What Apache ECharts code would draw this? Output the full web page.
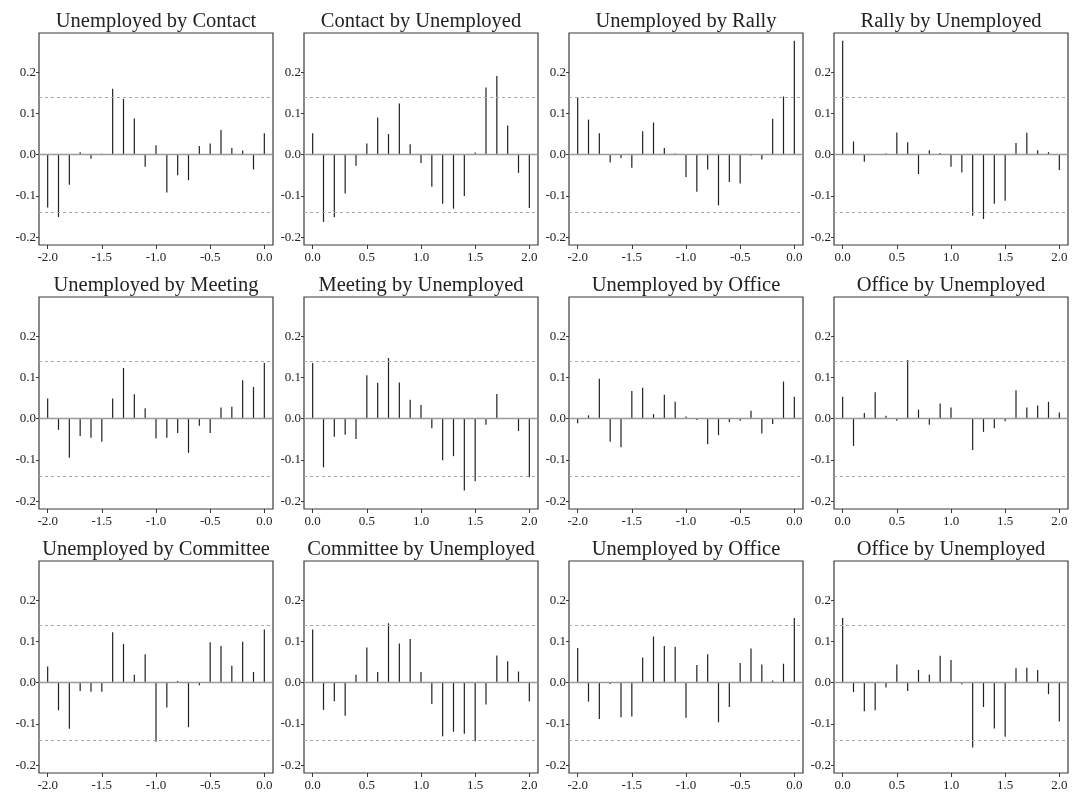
<!DOCTYPE html>
<html>
<head>
<meta charset="utf-8">
<script src="https://cdn.jsdelivr.net/npm/echarts@6/dist/echarts.min.js"></script>
<style>
  html, body { margin: 0; padding: 0; background: #fff; }
  #chart { width: 1076px; height: 798px; }
</style>
</head>
<body>
<div id="chart"></div>
<script>
// Lags (years) for the two directions of each cross-correlation pair
const lagsBack = [-2.0, -1.9, -1.8, -1.7, -1.6, -1.5, -1.4, -1.3, -1.2, -1.1, -1.0,
                  -0.9, -0.8, -0.7, -0.6, -0.5, -0.4, -0.3, -0.2, -0.1, 0.0];
const lagsFwd = [0.0, 0.1, 0.2, 0.3, 0.4, 0.5, 0.6, 0.7, 0.8, 0.9, 1.0,
                 1.1, 1.2, 1.3, 1.4, 1.5, 1.6, 1.7, 1.8, 1.9, 2.0];
const ticksBack = [-2.0, -1.5, -1.0, -0.5, 0.0];
const ticksFwd = [0.0, 0.5, 1.0, 1.5, 2.0];
const yTicks = [-0.2, -0.1, 0.0, 0.1, 0.2];
// approximate 95% confidence bound
const band = 0.135;

const titles = [
  'Unemployed by Contact', 'Contact by Unemployed', 'Unemployed by Rally', 'Rally by Unemployed',
  'Unemployed by Meeting', 'Meeting by Unemployed', 'Unemployed by Office', 'Office by Unemployed',
  'Unemployed by Committee', 'Committee by Unemployed', 'Unemployed by Office', 'Office by Unemployed'
];

const unemployedByContact = [-0.128, -0.151, -0.073, 0.006, -0.010, 0.002, 0.160, 0.135, 0.088, -0.029, 0.023,
                             -0.092, -0.050, -0.062, 0.021, 0.027, 0.060, 0.016, 0.010, -0.036, 0.052];
const contactByUnemployed = [0.052, -0.163, -0.152, -0.094, -0.027, 0.027, 0.090, 0.050, 0.124, 0.025, -0.020,
                             -0.078, -0.119, -0.131, -0.100, 0.005, 0.163, 0.191, 0.071, -0.044, -0.129];
const unemployedByRally = [0.140, 0.085, 0.052, -0.019, -0.008, -0.032, 0.057, 0.078, 0.016, 0.003, -0.054,
                           -0.090, -0.036, -0.123, -0.066, -0.070, -0.002, -0.012, 0.087, 0.141, 0.276];
const rallyByUnemployed = [0.276, 0.032, -0.017, -0.001, 0.003, 0.054, 0.030, -0.047, 0.011, 0.004, -0.029,
                           -0.043, -0.148, -0.156, -0.119, -0.112, 0.028, 0.053, 0.011, 0.006, -0.037];
const unemployedByMeeting = [0.049, -0.027, -0.095, -0.042, -0.046, -0.056, 0.049, 0.123, 0.059, 0.025, -0.048,
                             -0.046, -0.035, -0.083, -0.017, -0.035, 0.027, 0.029, 0.093, 0.077, 0.135];
const meetingByUnemployed = [0.135, -0.118, -0.044, -0.039, -0.049, 0.105, 0.087, 0.147, 0.088, 0.046, 0.033,
                             -0.023, -0.101, -0.091, -0.174, -0.152, -0.015, 0.060, 0.000, -0.030, -0.142];
const unemployedByOffice1 = [-0.011, 0.008, 0.097, -0.056, -0.069, 0.067, 0.075, 0.011, 0.058, 0.041, 0.005,
                             -0.003, -0.062, -0.040, -0.008, -0.005, 0.019, -0.036, -0.013, 0.090, 0.053];
const officeByUnemployed1 = [0.053, -0.066, 0.014, 0.064, 0.007, -0.005, 0.142, 0.022, -0.015, 0.037, 0.027,
                             0.000, -0.076, -0.032, -0.023, -0.006, 0.069, 0.027, 0.032, 0.041, 0.015];
const unemployedByCommittee = [0.039, -0.067, -0.112, -0.020, -0.022, -0.022, 0.122, 0.094, 0.019, 0.069, -0.143,
                               -0.060, 0.004, -0.108, -0.006, 0.098, 0.089, 0.041, 0.099, 0.026, 0.129];
const committeeByUnemployed = [0.129, -0.066, -0.045, -0.080, 0.019, 0.085, 0.026, 0.144, 0.095, 0.106, 0.026,
                               -0.052, -0.130, -0.119, -0.124, -0.142, -0.053, 0.066, 0.052, 0.027, -0.045];
const unemployedByOffice2 = [0.084, -0.046, -0.088, -0.003, -0.084, -0.082, 0.061, 0.112, 0.089, 0.087, -0.085,
                             0.043, 0.069, -0.096, -0.059, 0.048, 0.083, 0.044, 0.005, 0.046, 0.157];
const officeByUnemployed2 = [0.157, -0.023, -0.069, -0.067, -0.012, 0.044, -0.020, 0.031, 0.019, 0.065, 0.055,
                             -0.004, -0.157, -0.059, -0.111, -0.131, 0.035, 0.036, 0.031, -0.028, -0.094];

const panelValues = [
  unemployedByContact, contactByUnemployed, unemployedByRally, rallyByUnemployed,
  unemployedByMeeting, meetingByUnemployed, unemployedByOffice1, officeByUnemployed1,
  unemployedByCommittee, committeeByUnemployed, unemployedByOffice2, officeByUnemployed2
];

// layout of the 4 x 3 panel grid (pixels)
const gridLeft0 = 39, gridTop0 = 33, colStep = 265, rowStep = 264;
const gridW = 234, gridH = 212;
const fontFamily = '"Liberation Serif", "DejaVu Serif", serif';

const grids = [], xAxes = [], yAxes = [], series = [], titleList = [];

panelValues.forEach((vals, i) => {
  const col = i % 4, row = Math.floor(i / 4);
  const backward = col % 2 === 0;
  const lags = backward ? lagsBack : lagsFwd;
  const ticks = backward ? ticksBack : ticksFwd;
  const lo = ticks[0], hi = ticks[ticks.length - 1];
  const pad = (hi - lo) * 0.04;
  const left = gridLeft0 + col * colStep;
  const top = gridTop0 + row * rowStep;

  grids.push({
    left: left, top: top, width: gridW, height: gridH,
    show: true, borderColor: '#3a3a3a', borderWidth: 1.2, backgroundColor: 'transparent'
  });

  xAxes.push({
    type: 'value', gridIndex: i, min: lo - pad, max: hi + pad, position: 'bottom',
    axisLine: { show: false, onZero: false },
    splitLine: { show: false },
    axisTick: { show: true, inside: false, length: 4, customValues: ticks,
                lineStyle: { color: '#3a3a3a', width: 1 } },
    axisLabel: { show: true, customValues: ticks, margin: 6,
                 formatter: v => v.toFixed(1),
                 fontFamily: fontFamily, fontSize: 13, color: '#222' }
  });

  yAxes.push({
    type: 'value', gridIndex: i, min: -0.219, max: 0.295, position: 'left',
    axisLine: { show: false, onZero: false },
    splitLine: { show: false },
    axisTick: { show: true, inside: false, length: 3, customValues: yTicks,
                lineStyle: { color: '#3a3a3a', width: 1 } },
    axisLabel: { show: true, customValues: yTicks, margin: 3,
                 formatter: v => v.toFixed(1),
                 fontFamily: fontFamily, fontSize: 13, color: '#222' }
  });

  titleList.push({
    text: titles[i],
    left: left + gridW / 2, top: top - 22, textAlign: 'center', padding: 0,
    textStyle: { fontFamily: fontFamily, fontSize: 20.5, fontWeight: 'normal', color: '#222' }
  });

  series.push({
    type: 'custom',
    xAxisIndex: i, yAxisIndex: i,
    data: lags.map((lag, k) => [lag, vals[k]]),
    encode: { x: 0, y: 1 },
    silent: true,
    renderItem: (params, api) => {
      const x = api.value(0), y = api.value(1);
      const p0 = api.coord([x, 0]);
      const p1 = api.coord([x, y]);
      return {
        type: 'line',
        shape: { x1: p0[0], y1: p0[1], x2: p1[0], y2: p1[1] },
        style: { stroke: '#222', lineWidth: 1.2 }
      };
    },
    markLine: {
      silent: true, symbol: 'none', label: { show: false },
      data: [
        { yAxis: 0, lineStyle: { type: 'solid', color: '#9a9a9a', width: 1.4 } },
        { yAxis: band, lineStyle: { type: [3, 3], color: '#a8a8a8', width: 1 } },
        { yAxis: -band, lineStyle: { type: [3, 3], color: '#a8a8a8', width: 1 } }
      ]
    }
  });
});

const chart = echarts.init(document.getElementById('chart'), null, { renderer: 'canvas' });
chart.setOption({
  animation: false,
  backgroundColor: '#fff',
  title: titleList,
  grid: grids,
  xAxis: xAxes,
  yAxis: yAxes,
  series: series
});
</script>
</body>
</html>
